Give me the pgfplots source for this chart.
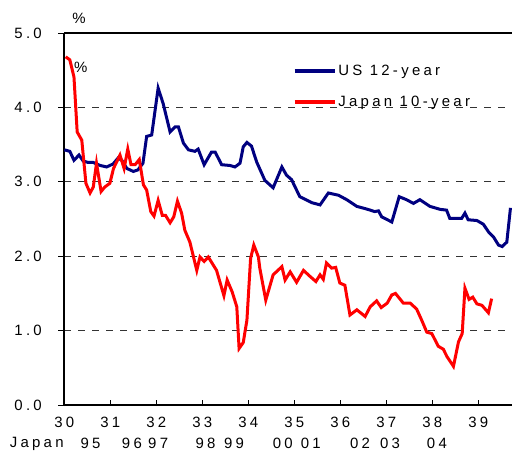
\documentclass[border=0pt]{standalone}
\usepackage{pgfplots}
\pgfplotsset{compat=1.18}
\usepackage{fontspec}
\setmainfont{Liberation Sans}[LetterSpace=22]
\definecolor{usblue}{HTML}{000080}
\definecolor{jpred}{HTML}{FF0000}
\newcommand{\lbl}{\fontsize{15}{17}\selectfont}

\begin{document}
\begin{tikzpicture}
\begin{axis}[
  scale only axis, width=447.7bp, height=372bp,
  xmin=30, xmax=39.733, ymin=0, ymax=5,
  axis x line*=bottom, axis y line*=left,
  axis line style={line width=1.8bp},
  xtick={30,...,39}, ytick={0,1,...,5},
  tick align=outside, major tick length=6bp,
  tick style={black, line width=0.8bp},
  xtick style={yshift=5bp},
  yticklabel style={xshift=-13bp, /pgf/number format/.cd, fixed, fixed zerofill, precision=1},
  xticklabel style={yshift=-3bp},
  /pgf/number format/assume math mode=true,
  tick label style={font=\lbl},
  ymajorgrids,
  grid style={black!80, dash pattern=on 7bp off 7bp, line width=0.9bp},
  clip=false,
  legend style={at={(rel axis cs:0.504,0.925)}, anchor=north west,
    draw=none, fill=none, font=\lbl, row sep=15bp},
  legend cell align=left,
  legend image code/.code={\draw[#1, line width=3.2bp] (0bp,0bp) -- (40bp,0bp);},
]
\addplot[usblue, line width=3bp] coordinates {
(30.00,3.43) (30.12,3.41) (30.21,3.29) (30.32,3.36) (30.41,3.28) (30.52,3.26)
(30.63,3.26) (30.78,3.22) (30.92,3.20) (31.06,3.24) (31.17,3.32) (31.25,3.29)
(31.36,3.18) (31.50,3.14) (31.60,3.16) (31.71,3.25) (31.79,3.61) (31.90,3.63)
(32.04,4.26) (32.15,4.05) (32.30,3.67) (32.41,3.74) (32.48,3.74) (32.59,3.52)
(32.70,3.43) (32.84,3.41) (32.91,3.44) (33.04,3.23) (33.20,3.40) (33.28,3.40)
(33.42,3.23) (33.60,3.22) (33.71,3.20) (33.82,3.25) (33.89,3.47) (33.97,3.53)
(34.07,3.48) (34.18,3.27) (34.36,3.02) (34.54,2.92) (34.73,3.20) (34.83,3.09)
(34.94,3.03) (35.12,2.80) (35.38,2.72) (35.56,2.69) (35.74,2.85) (35.96,2.82)
(36.14,2.76) (36.36,2.67) (36.54,2.64) (36.65,2.62) (36.75,2.60) (36.83,2.61)
(36.90,2.53) (37.12,2.46) (37.28,2.80) (37.44,2.76) (37.59,2.71) (37.73,2.76)
(37.95,2.67) (38.17,2.63) (38.31,2.62) (38.38,2.51) (38.64,2.51) (38.71,2.58)
(38.78,2.49) (38.97,2.48) (39.11,2.43) (39.23,2.32) (39.33,2.26) (39.44,2.15)
(39.52,2.13) (39.62,2.19) (39.70,2.65)
};
\addlegendentry{US 12-year}
\addplot[jpred, line width=3bp] coordinates {
(30.03,4.68) (30.12,4.64) (30.21,4.41) (30.28,3.67) (30.38,3.56) (30.47,2.98)
(30.56,2.85) (30.63,2.93) (30.70,3.25) (30.80,2.87) (30.88,2.93) (30.99,2.98)
(31.07,3.18) (31.21,3.36) (31.30,3.18) (31.38,3.44) (31.45,3.23) (31.54,3.23)
(31.63,3.30) (31.72,2.96) (31.79,2.89) (31.88,2.60) (31.95,2.54) (32.04,2.75)
(32.13,2.55) (32.20,2.55) (32.30,2.45) (32.38,2.53) (32.46,2.74) (32.55,2.58)
(32.62,2.35) (32.73,2.19) (32.88,1.81) (32.95,1.99) (33.04,1.93) (33.13,1.99)
(33.24,1.88) (33.31,1.81) (33.47,1.47) (33.54,1.68) (33.65,1.52) (33.75,1.32)
(33.80,0.76) (33.89,0.84) (33.97,1.14) (34.05,1.97) (34.12,2.15) (34.22,1.99)
(34.25,1.84) (34.38,1.41) (34.54,1.75) (34.73,1.86) (34.80,1.68) (34.91,1.79)
(35.05,1.65) (35.20,1.81) (35.34,1.73) (35.47,1.66) (35.56,1.75) (35.63,1.69)
(35.70,1.91) (35.81,1.84) (35.90,1.85) (35.99,1.64) (36.10,1.61) (36.21,1.21)
(36.36,1.28) (36.54,1.19) (36.65,1.32) (36.79,1.40) (36.89,1.31) (37.02,1.37)
(37.12,1.48) (37.20,1.50) (37.37,1.37) (37.52,1.37) (37.66,1.29) (37.77,1.14)
(37.88,0.98) (37.99,0.96) (38.13,0.79) (38.24,0.75) (38.32,0.65) (38.46,0.52)
(38.57,0.85) (38.65,0.96) (38.71,1.57) (38.80,1.42) (38.88,1.45) (38.97,1.36)
(39.08,1.34) (39.22,1.24) (39.29,1.43)
};
\addlegendentry{Japan 10-year}
\draw[black, line width=1.4bp] (rel axis cs:0,1) -- (rel axis cs:1,1);
\node[font=\lbl] at (axis cs:30.32,5.20) {\%};
\node[font=\lbl] at (axis cs:30.36,4.54) {\%};
\node[font=\lbl] at (axis cs:29.40,-0.52) {Japan};
\node[font=\lbl] at (axis cs:30.57,-0.52) {95};
\node[font=\lbl] at (axis cs:31.47,-0.52) {96};
\node[font=\lbl] at (axis cs:32.04,-0.52) {97};
\node[font=\lbl] at (axis cs:33.07,-0.52) {98};
\node[font=\lbl] at (axis cs:33.69,-0.52) {99};
\node[font=\lbl] at (axis cs:34.75,-0.52) {00};
\node[font=\lbl] at (axis cs:35.36,-0.52) {01};
\node[font=\lbl] at (axis cs:36.43,-0.52) {02};
\node[font=\lbl] at (axis cs:37.08,-0.52) {03};
\node[font=\lbl] at (axis cs:38.10,-0.52) {04};
\coordinate (bl) at (axis cs:28.602,-0.659);
\coordinate (tr) at (axis cs:39.733,5.444);
\end{axis}
\pgfresetboundingbox
\path[use as bounding box] (bl) rectangle (tr);
\end{tikzpicture}
\end{document}
